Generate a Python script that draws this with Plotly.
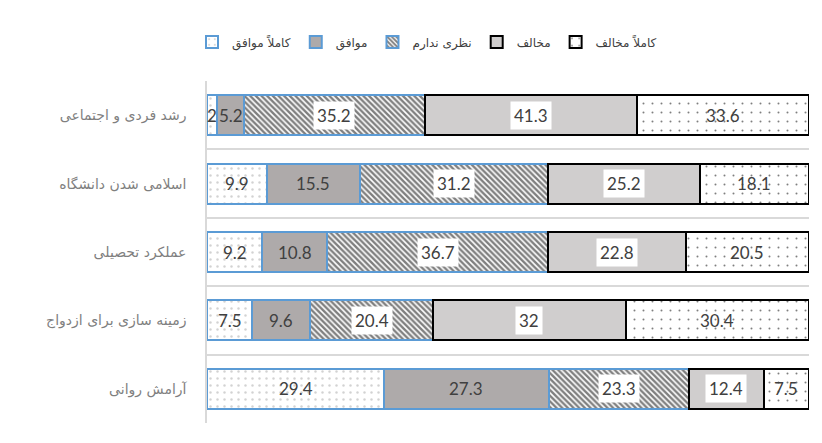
import plotly.graph_objects as go

categories = ["رشد فردی و اجتماعی", "اسلامی شدن دانشگاه", "عملکرد تحصیلی",
              "زمینه سازی برای ازدواج", "آرامش روانی"]
series_names = ["کاملاً موافق", "موافق", "نظری ندارم", "مخالف", "کاملاً مخالف"]
s_kamelan_movafeq = [2, 9.9, 9.2, 7.5, 29.4]
s_movafeq = [5.2, 15.5, 10.8, 9.6, 27.3]
s_nazari_nadaram = [35.2, 31.2, 36.7, 20.4, 23.3]
s_mokhalef = [41.3, 25.2, 22.8, 32, 12.4]
s_kamelan_mokhalef = [33.6, 18.1, 20.5, 30.4, 7.5]
series_values = [s_kamelan_movafeq, s_movafeq, s_nazari_nadaram, s_mokhalef, s_kamelan_mokhalef]

BLUE = "#5b9bd5"
styles = [
    dict(color="white", line=dict(color=BLUE, width=2),
         pattern=dict(shape=".", fgcolor="#a6a6a6", bgcolor="white", size=7, solidity=0.1, fillmode="overlay")),
    dict(color="#aeaaaa", line=dict(color=BLUE, width=2)),
    dict(color="white", line=dict(color=BLUE, width=2),
         pattern=dict(shape="\\", fgcolor="black", bgcolor="white", size=4, solidity=0.6, fillmode="overlay")),
    dict(color="#d0cece", line=dict(color="black", width=2)),
    dict(color="white", line=dict(color="black", width=2),
         pattern=dict(shape=".", fgcolor="black", bgcolor="white", size=9, solidity=0.04, fillmode="overlay")),
]
label_bg = [None, None, "white", "white", None]

fig = go.Figure()
for name, vals, st in zip(series_names, series_values, styles):
    fig.add_trace(go.Bar(
        y=categories, x=vals, name=name, orientation="h",
        marker=st, textposition="none", hoverinfo="x+name",
    ))

# data labels centred on each (normalised) segment
totals = [sum(v[i] for v in series_values) for i in range(len(categories))]
annotations = []
for i, cat in enumerate(categories):
    cum = 0.0
    for k, vals in enumerate(series_values):
        pct = vals[i] / totals[i] * 100
        center = cum + pct / 2
        cum += pct
        ann = dict(x=center, y=cat, xref="x", yref="y", text=f"{vals[i]:g}", showarrow=False,
                   font=dict(family="Lato, Open Sans, sans-serif", size=17, color="#404040"))
        if label_bg[k]:
            ann.update(bgcolor=label_bg[k], borderpad=3)
        annotations.append(ann)

# page body has an 8px margin: figure origin sits at (8, 8) in the window
OFF = 8
W, H = 822 - 2 * OFF, 443 - 2 * OFF
L, T = 207 - OFF, 81 - OFF
R = W - (809 - OFF)
B = H - (423 - OFF)

fig.update_layout(
    width=W, height=H,
    barmode="stack", barnorm="percent", bargap=0.415,
    paper_bgcolor="white", plot_bgcolor="white",
    margin=dict(l=L, r=R, t=T, b=B, pad=0, autoexpand=False),
    annotations=annotations,
    showlegend=True,
    legend=dict(orientation="h", xref="container", yref="container",
                x=(427 - OFF) / W, y=1 - (42 - OFF) / H, xanchor="center", yanchor="middle",
                traceorder="normal",
                font=dict(family="DejaVu Sans, sans-serif", size=12, color="#404040"),
                itemclick=False, itemdoubleclick=False),
    xaxis=dict(range=[0, 100], visible=False, fixedrange=True),
    yaxis=dict(categoryorder="array", categoryarray=categories, range=[4.5, -0.5],
               tickson="boundaries", showgrid=True, gridcolor="#d9d9d9", gridwidth=1.5,
               showline=True, linecolor="#d9d9d9", linewidth=1.5, ticks="",
               ticklabelstandoff=16,
               tickfont=dict(family="DejaVu Sans, sans-serif", size=14, color="#7f7f7f"),
               zeroline=False, fixedrange=True),
)

fig.write_html("out.html")
